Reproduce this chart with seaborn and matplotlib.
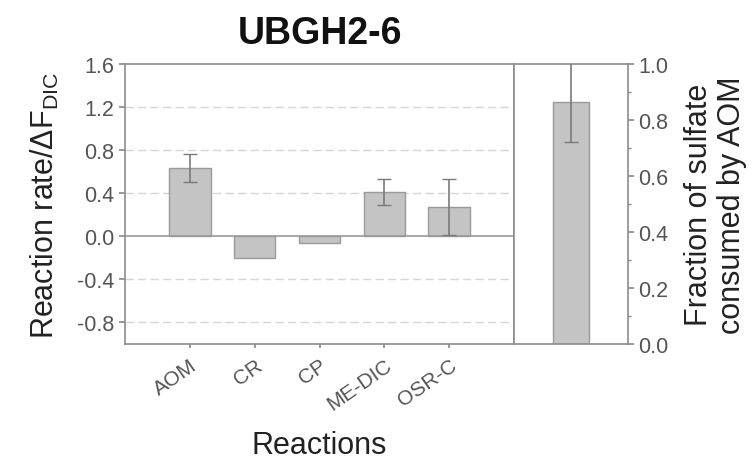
import matplotlib
matplotlib.use("Agg")
import matplotlib.pyplot as plt
import seaborn as sns
import pandas as pd
import numpy as np
from matplotlib.ticker import MultipleLocator

# ---- data ----
reactions = ["AOM", "CR", "CP", "ME-DIC", "OSR-C"]
rates = [0.63, -0.20, -0.065, 0.41, 0.27]
rate_err = [0.13, 0.0, 0.0, 0.12, 0.26]
frac_label = ["AOM"]
frac_value = [0.865]
frac_err = [0.145]
left_ticks = [-0.8, -0.4, 0.0, 0.4, 0.8, 1.2, 1.6]
right_ticks = [0.0, 0.2, 0.4, 0.6, 0.8, 1.0]

sns.set_theme(style="white")
plt.rcParams['font.family'] = ['Liberation Sans', 'DejaVu Sans']
plt.rcParams['mathtext.fontset'] = 'custom'
plt.rcParams['mathtext.rm'] = 'Liberation Sans'
plt.rcParams['mathtext.it'] = 'Liberation Sans:italic'

bar_fc = "#c4c4c4"
bar_ec = "#9a9a9a"
err_c = "#7a7a7a"
spine_c = "#8c8c8c"
tick_c = "#555555"

fig = plt.figure(figsize=(7.53, 4.64), dpi=100)
W, H = 753, 464
x0, x1, x2 = 125, 514, 628
ytop, ybot = 65, 345
ax1 = fig.add_axes([x0 / W, 1 - ybot / H, (x1 - x0) / W, (ybot - ytop) / H])
ax2 = fig.add_axes([x1 / W, 1 - ybot / H, (x2 - x1) / W, (ybot - ytop) / H])

df1 = pd.DataFrame({"Reaction": reactions, "Rate": rates})
sns.barplot(data=df1, x="Reaction", y="Rate", ax=ax1, color=bar_fc,
            edgecolor=bar_ec, linewidth=1.0, width=0.64, saturation=1, errorbar=None)
xs = np.arange(len(reactions))
errs = np.array(rate_err)
mask = errs > 0
ax1.errorbar(xs[mask], np.array(rates)[mask], yerr=errs[mask], fmt="none",
             ecolor=err_c, elinewidth=1.2, capsize=5, capthick=1.0, zorder=4)
ax1.set_xlim(-1, 5)
ax1.set_ylim(-1.0, 1.6)
ax1.set_yticks(left_ticks)
ax1.set_yticklabels([f"{t:.1f}" for t in left_ticks])
for t in [-0.8, -0.4, 0.4, 0.8, 1.2]:
    ax1.axhline(t, color="#d6d6d6", lw=1.0, ls=(0, (6, 3)), zorder=0)
ax1.axhline(0, color="#999999", lw=1.2, zorder=3)
ax1.set_xlabel("Reactions", fontsize=22, color="#222222", labelpad=12)
ax1.set_ylabel(r"Reaction rate/$\Delta$F$_{\rm DIC}$", fontsize=22, color="#222222", labelpad=12)
ax1.set_xticks(xs)
ax1.set_xticklabels(reactions, rotation=35, ha="right", rotation_mode="anchor",
                    fontsize=15, color=tick_c)
ax1.tick_params(axis="x", length=3, color=spine_c, pad=5, bottom=True)
ax1.tick_params(axis="y", length=4, color=spine_c, labelsize=15.5, labelcolor=tick_c, left=True)

df2 = pd.DataFrame({"Group": frac_label, "Fraction": frac_value})
sns.barplot(data=df2, x="Group", y="Fraction", ax=ax2, color=bar_fc,
            edgecolor=bar_ec, linewidth=1.0, width=0.31, saturation=1, errorbar=None)
ax2.errorbar([0], frac_value, yerr=frac_err, fmt="none", ecolor=err_c,
             elinewidth=1.2, capsize=5, capthick=1.0, zorder=4)
ax2.set_xlim(-0.5, 0.5)
ax2.set_ylim(0, 1.0)
ax2.set_xticks([])
ax2.set_xlabel("")
ax2.yaxis.tick_right()
ax2.yaxis.set_label_position("right")
ax2.set_yticks(right_ticks)
ax2.set_yticklabels([f"{t:.1f}" for t in right_ticks])
ax2.yaxis.set_minor_locator(MultipleLocator(0.1))
ax2.tick_params(axis="y", which="major", length=4, color=spine_c, labelsize=15.5,
                labelcolor=tick_c, right=True, left=False)
ax2.tick_params(axis="y", which="minor", length=2.5, color=spine_c, right=True, left=False)
ax2.set_ylabel("Fraction of sulfate\nconsumed by AOM", fontsize=22, color="#222222",
               labelpad=11, linespacing=1.15)

for ax in (ax1, ax2):
    for s in ax.spines.values():
        s.set_color(spine_c)
        s.set_linewidth(1.2)
        s.set_visible(True)

fig.text((x0 + x1) / 2 / W, 1 - 34 / H, "UBGH2-6", fontsize=27, fontweight="bold",
         ha="center", va="center", color="#111111")

fig.savefig("out.png", dpi=100)
